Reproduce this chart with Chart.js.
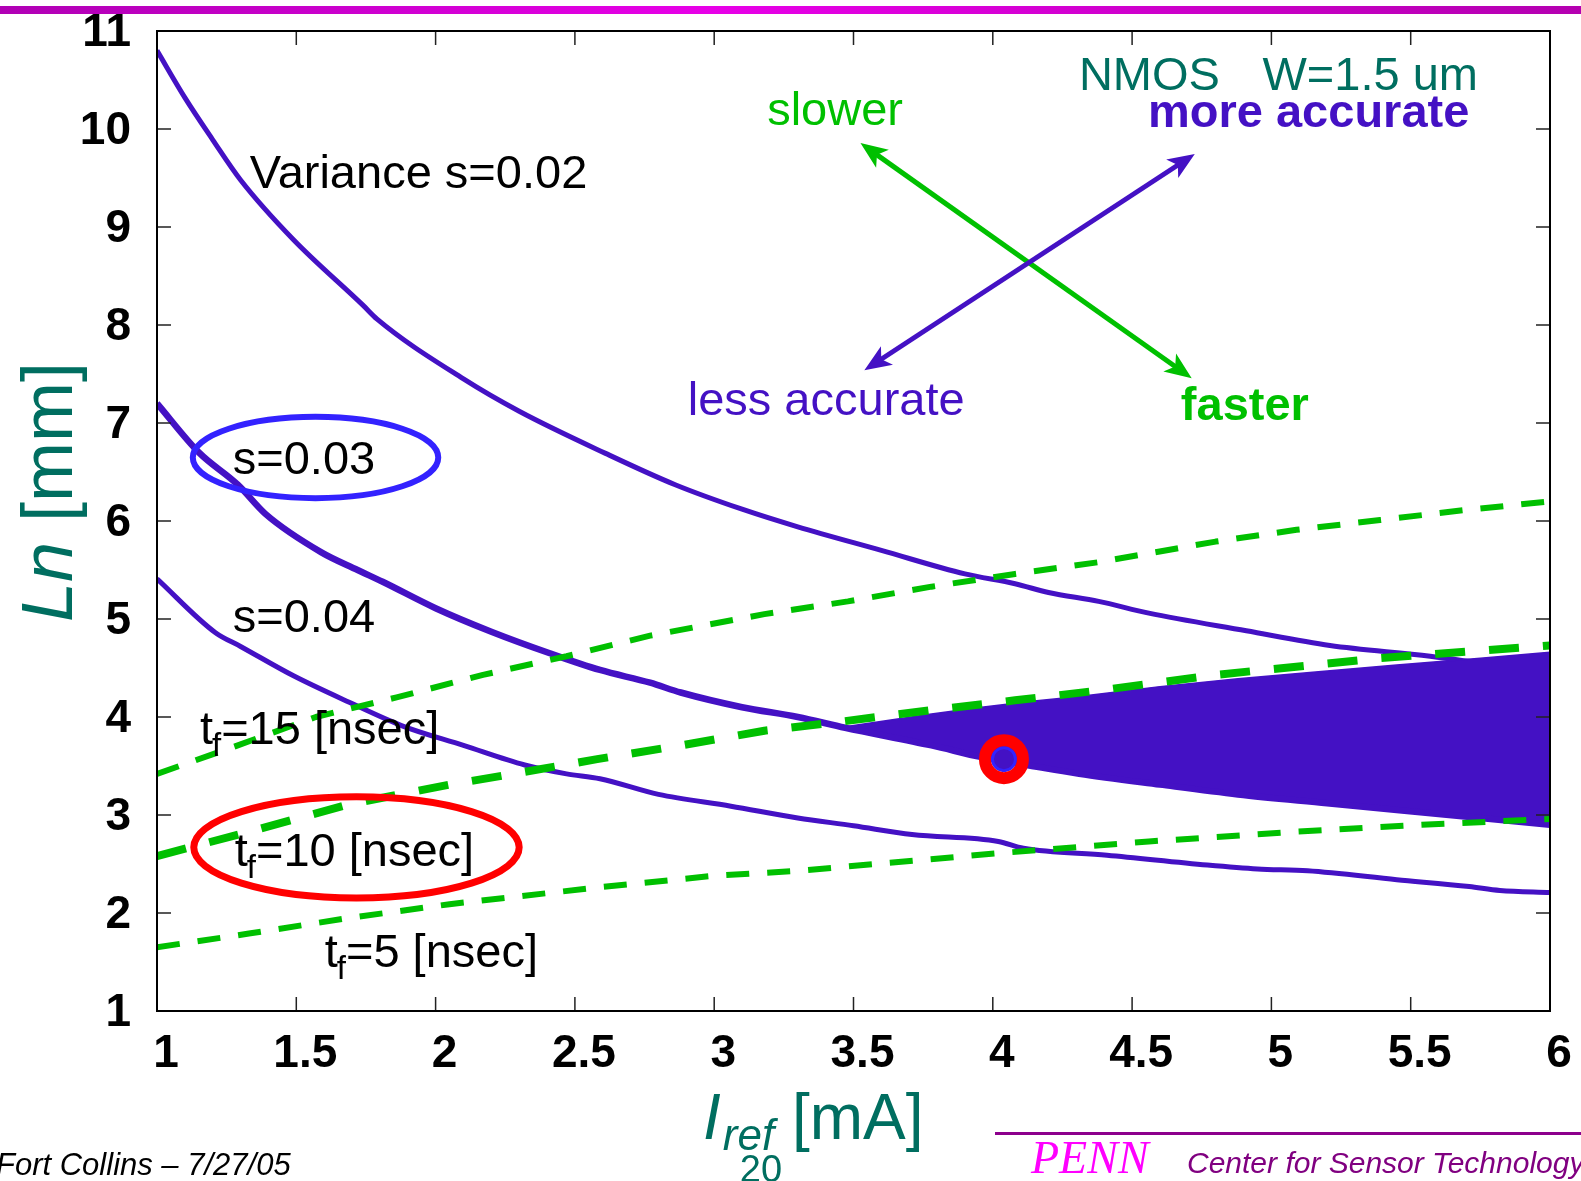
<!DOCTYPE html>
<html><head><meta charset="utf-8">
<script src="https://cdn.jsdelivr.net/npm/chart.js@4.4.0/dist/chart.umd.min.js"></script>
<style>html,body{margin:0;padding:0;background:#fff;overflow:hidden}canvas{display:block}</style>
</head><body>
<canvas id="c" width="1581" height="1181"></canvas>
<script>
// ---- data ----
const xTickValues = [1, 1.5, 2, 2.5, 3, 3.5, 4, 4.5, 5, 5.5, 6];
const xTickLabels = ['1', '1.5', '2', '2.5', '3', '3.5', '4', '4.5', '5', '5.5', '6'];
const yTickValues = [1, 2, 3, 4, 5, 6, 7, 8, 9, 10, 11];
const yTickLabels = ['1', '2', '3', '4', '5', '6', '7', '8', '9', '10', '11'];

const s002X = [1.0, 1.1, 1.2, 1.3, 1.49, 1.74, 1.79, 2.1, 2.3, 2.61, 2.86, 3.1, 3.3, 3.6, 3.9, 4.08, 4.2, 4.38, 4.56, 4.91, 5.21, 5.57, 6.0];
const s002Y = [10.8, 10.32, 9.89, 9.48, 8.87, 8.2, 8.06, 7.45, 7.12, 6.69, 6.37, 6.12, 5.94, 5.70, 5.46, 5.36, 5.27, 5.18, 5.06, 4.88, 4.73, 4.62, 4.45];

const s003X = [1.0, 1.15, 1.29, 1.39, 1.59, 1.72, 1.81, 2.0, 2.2, 2.41, 2.59, 2.77, 2.88, 3.1, 3.3, 3.47, 3.78, 3.96, 4.14, 4.31, 4.6, 4.88, 5.2, 5.45, 5.75, 6.0];
const s003Y = [7.2, 6.7, 6.37, 6.07, 5.68, 5.50, 5.38, 5.11, 4.87, 4.65, 4.48, 4.35, 4.25, 4.10, 4.0, 3.89, 3.71, 3.59, 3.50, 3.42, 3.31, 3.21, 3.12, 3.05, 2.97, 2.90];

const s004X = [1.0, 1.21, 1.3, 1.49, 1.69, 1.88, 2.1, 2.32, 2.47, 2.59, 2.8, 3.06, 3.3, 3.5, 3.71, 4.02, 4.11, 4.41, 4.77, 4.95, 5.13, 5.45, 5.71, 5.82, 6.0];
const s004Y = [5.41, 4.86, 4.72, 4.42, 4.15, 3.91, 3.71, 3.51, 3.42, 3.37, 3.21, 3.09, 2.97, 2.89, 2.80, 2.73, 2.66, 2.59, 2.49, 2.45, 2.43, 2.34, 2.27, 2.23, 2.21];

const tf15X = [1.0, 1.29, 1.57, 1.86, 2.17, 2.47, 2.77, 3.18, 3.48, 3.78, 4.08, 4.38, 4.8, 5.09, 5.39, 5.69, 6.0];
const tf15Y = [3.42, 3.71, 4.0, 4.2, 4.43, 4.62, 4.83, 5.05, 5.18, 5.33, 5.46, 5.58, 5.79, 5.91, 6.01, 6.11, 6.20];

const tf10X = [1.0, 1.33, 1.69, 2.05, 2.3, 2.58, 2.88, 3.18, 3.42, 3.78, 4.08, 4.38, 4.8, 5.39, 6.0];
const tf10Y = [2.58, 2.83, 3.11, 3.31, 3.43, 3.57, 3.71, 3.86, 3.94, 4.07, 4.17, 4.27, 4.43, 4.60, 4.73];

const tf5X = [1.0, 1.33, 1.69, 2.05, 2.58, 3.0, 3.3, 4.02, 4.56, 5.09, 5.54, 6.0];
const tf5Y = [1.65, 1.79, 1.95, 2.09, 2.26, 2.38, 2.43, 2.61, 2.73, 2.83, 2.90, 2.96];

// feasible region (between s=0.03 and t_f=10)
const regionX = [3.47, 3.78, 3.96, 4.14, 4.31, 4.6, 4.88, 5.2, 5.45, 5.75, 6.0];
const regionTopY = [3.90, 4.03, 4.10, 4.16, 4.21, 4.31, 4.39, 4.47, 4.53, 4.60, 4.66];
const regionBottomY = [3.89, 3.71, 3.59, 3.50, 3.42, 3.31, 3.21, 3.12, 3.05, 2.97, 2.90];

const designX = [4.04];
const designY = [3.57];

// ---- styles ----
const PURPLE = '#4411c4';
const GREEN = '#00c000';
const TEAL = '#006e60';
const BLUE = '#3322ff';
const RED = '#ff0000';
const FONT = '"Liberation Sans", Arial, Helvetica, sans-serif';

const pts = (xs, ys) => xs.map((x, i) => ({x: x, y: ys[i]}));

const annotations = {
  blueEllipse: {cx: 1.569, cy: 6.648, rx: 0.4405, ry: 0.415},
  redEllipse: {cx: 1.716, cy: 2.670, rx: 0.584, ry: 0.516},
  greenArrow: [3.525, 9.856, 4.714, 7.457],
  blueArrow: [3.539, 7.538, 4.725, 9.745]
};

function drawArrowHead(ctx, xFrom, yFrom, xTip, yTip, len, half) {
  const a = Math.atan2(yTip - yFrom, xTip - xFrom);
  ctx.beginPath();
  ctx.moveTo(xTip, yTip);
  ctx.lineTo(xTip - len * Math.cos(a) + half * Math.sin(a), yTip - len * Math.sin(a) - half * Math.cos(a));
  ctx.lineTo(xTip - len * 0.75 * Math.cos(a), yTip - len * 0.75 * Math.sin(a));
  ctx.lineTo(xTip - len * Math.cos(a) - half * Math.sin(a), yTip - len * Math.sin(a) + half * Math.cos(a));
  ctx.closePath();
  ctx.fill();
}
function drawDoubleArrow(ctx, x1, y1, x2, y2, color) {
  ctx.strokeStyle = color; ctx.fillStyle = color; ctx.lineWidth = 5;
  const a = Math.atan2(y2 - y1, x2 - x1);
  const off = 16;
  ctx.beginPath();
  ctx.moveTo(x1 + off * Math.cos(a), y1 + off * Math.sin(a));
  ctx.lineTo(x2 - off * Math.cos(a), y2 - off * Math.sin(a));
  ctx.stroke();
  drawArrowHead(ctx, x1, y1, x2, y2, 27, 11);
  drawArrowHead(ctx, x2, y2, x1, y1, 27, 11);
}
function drawTf(ctx, x, y, num) {
  ctx.fillStyle = '#000';
  ctx.textAlign = 'left'; ctx.textBaseline = 'alphabetic';
  ctx.font = '47px ' + FONT;
  ctx.fillText('t', x, y);
  let w = ctx.measureText('t').width;
  ctx.font = '33px ' + FONT;
  ctx.fillText('f', x + w - 1, y + 12);
  w += ctx.measureText('f').width - 1;
  ctx.font = '47px ' + FONT;
  ctx.fillText('=' + num + ' [nsec]', x + w, y);
}

const decor = {
  id: 'decor',
  beforeDraw(chart) {
    const ctx = chart.ctx;
    ctx.save();
    ctx.fillStyle = '#fff';
    ctx.fillRect(0, 0, chart.width, chart.height);
    ctx.restore();
  },
  afterDatasetsDraw(chart) {
    const ctx = chart.ctx;
    const X = v => chart.scales.x.getPixelForValue(v);
    const Y = v => chart.scales.y.getPixelForValue(v);
    const ca = chart.chartArea;
    ctx.save();
    // inward ticks
    ctx.strokeStyle = '#222'; ctx.lineWidth = 1.5;
    ctx.beginPath();
    xTickValues.forEach(v => {
      const p = X(v);
      ctx.moveTo(p, ca.bottom); ctx.lineTo(p, ca.bottom - 14);
      ctx.moveTo(p, ca.top); ctx.lineTo(p, ca.top + 14);
    });
    yTickValues.forEach(v => {
      const p = Y(v);
      ctx.moveTo(ca.left, p); ctx.lineTo(ca.left + 14, p);
      ctx.moveTo(ca.right, p); ctx.lineTo(ca.right - 14, p);
    });
    ctx.stroke();
    // frame
    ctx.strokeStyle = '#000'; ctx.lineWidth = 2;
    ctx.strokeRect(ca.left, ca.top, ca.right - ca.left, ca.bottom - ca.top);

    // ellipses
    const e1 = annotations.blueEllipse, e2 = annotations.redEllipse;
    ctx.lineWidth = 6; ctx.strokeStyle = BLUE;
    ctx.beginPath();
    ctx.ellipse(X(e1.cx), Y(e1.cy), X(e1.cx + e1.rx) - X(e1.cx), Y(e1.cy) - Y(e1.cy + e1.ry), 0, 0, Math.PI * 2);
    ctx.stroke();
    ctx.lineWidth = 7; ctx.strokeStyle = RED;
    ctx.beginPath();
    ctx.ellipse(X(e2.cx), Y(e2.cy), X(e2.cx + e2.rx) - X(e2.cx), Y(e2.cy) - Y(e2.cy + e2.ry), 0, 0, Math.PI * 2);
    ctx.stroke();

    // arrows
    const g = annotations.greenArrow, b = annotations.blueArrow;
    drawDoubleArrow(ctx, X(g[0]), Y(g[1]), X(g[2]), Y(g[3]), GREEN);
    drawDoubleArrow(ctx, X(b[0]), Y(b[1]), X(b[2]), Y(b[3]), PURPLE);

    // labels
    ctx.textAlign = 'left'; ctx.textBaseline = 'alphabetic';
    ctx.font = '47px ' + FONT;
    ctx.fillStyle = '#000';
    ctx.fillText('Variance s=0.02', X(1.333), Y(9.40));
    ctx.fillText('s=0.03', X(1.272), Y(6.48));
    ctx.fillText('s=0.04', X(1.272), Y(4.87));
    drawTf(ctx, X(1.154), Y(3.72), '15');
    drawTf(ctx, X(1.279), Y(2.48), '10');
    drawTf(ctx, X(1.602), Y(1.445), '5');

    ctx.font = '47px ' + FONT;
    ctx.fillStyle = TEAL;
    ctx.fillText('NMOS', X(4.309), Y(10.40));
    ctx.fillText('W=1.5 um', X(4.968), Y(10.40));
    ctx.fillStyle = GREEN;
    ctx.fillText('slower', X(3.19), Y(10.04));
    ctx.fillStyle = PURPLE;
    ctx.fillText('less accurate', X(2.905), Y(7.08));
    ctx.font = 'bold 47px ' + FONT;
    ctx.fillText('more accurate', X(4.557), Y(10.02));
    ctx.fillStyle = GREEN;
    ctx.fillText('faster', X(4.675), Y(7.03));
    ctx.restore();
  },
  afterDraw(chart) {
    const ctx = chart.ctx;
    const W = chart.width;
    ctx.save();
    // top gradient bar
    const gr = ctx.createLinearGradient(0, 0, W, 0);
    gr.addColorStop(0, '#b000b4');
    gr.addColorStop(0.45, '#e800e8');
    gr.addColorStop(1, '#b400b0');
    ctx.fillStyle = gr;
    ctx.fillRect(0, 6, W, 8);

    // axis titles
    ctx.fillStyle = TEAL;
    ctx.textBaseline = 'alphabetic'; ctx.textAlign = 'left';
    ctx.save();
    ctx.translate(72, 622);
    ctx.rotate(-Math.PI / 2);
    ctx.font = 'italic 72px ' + FONT;
    ctx.fillText('Ln', 0, 0);
    let w = ctx.measureText('Ln').width;
    ctx.font = '72px ' + FONT;
    ctx.fillText(' [mm]', w, 0);
    ctx.restore();
    ctx.font = 'italic 64px ' + FONT;
    ctx.fillText('I', 703, 1139);
    w = ctx.measureText('I').width;
    ctx.font = 'italic 44px ' + FONT;
    ctx.fillText('ref', 703 + w + 2, 1150);
    const w2 = ctx.measureText('ref').width;
    ctx.font = '64px ' + FONT;
    ctx.fillText(' [mA]', 703 + w + 2 + w2, 1139);

    // page number
    ctx.font = '38px ' + FONT;
    ctx.textAlign = 'center';
    ctx.fillText('20', 761, 1182);

    // footer
    ctx.textAlign = 'left';
    ctx.fillStyle = '#000';
    ctx.font = 'italic 31px ' + FONT;
    ctx.fillText('Fort Collins \u2013 7/27/05', -4, 1175);

    ctx.fillStyle = '#8c008c';
    ctx.fillRect(995, 1132, W - 995, 3);
    ctx.fillStyle = '#ff00ff';
    ctx.font = 'italic 46px "Liberation Serif", "Times New Roman", serif';
    ctx.fillText('PENN', 1031, 1173);
    ctx.fillStyle = '#800080';
    ctx.font = 'italic 30px ' + FONT;
    ctx.fillText('Center for Sensor Technology', 1187, 1173);
    ctx.restore();
  }
};

const lineDs = (label, xs, ys, color, width, dash, order, smooth) => ({
  label: label, data: pts(xs, ys), borderColor: color, borderWidth: width,
  borderDash: dash || [], pointRadius: 0, tension: 0,
  cubicInterpolationMode: smooth ? 'monotone' : 'default',
  fill: false, order: order,
  borderCapStyle: 'butt', borderJoinStyle: 'round'
});

const datasets = [
  lineDs('s=0.02', s002X, s002Y, PURPLE, 5, null, 6, true),        // 0
  lineDs('s=0.03', s003X, s003Y, PURPLE, 6.5, null, 3, true),      // 1
  lineDs('s=0.04', s004X, s004Y, PURPLE, 5, null, 3, true),        // 2
  lineDs('tf=15', tf15X, tf15Y, GREEN, 6, [23, 18], 1, false),     // 3
  lineDs('tf=10', tf10X, tf10Y, GREEN, 8, [30, 24], 1, false),     // 4
  lineDs('tf=5', tf5X, tf5Y, GREEN, 6, [23, 18], 1, false),        // 5
  { label: 'regionBottom', data: pts(regionX, regionBottomY), borderColor: 'rgba(0,0,0,0)',
    borderWidth: 1, pointRadius: 0, tension: 0, cubicInterpolationMode: 'monotone', fill: false, order: 8 }, // 6
  { label: 'region', data: pts(regionX, regionTopY), borderColor: PURPLE, borderWidth: 1.5,
    backgroundColor: PURPLE, pointRadius: 0, tension: 0, fill: {target: 6}, order: 5 }, // 7
  { label: 'designRing', data: pts(designX, designY), showLine: false, pointRadius: 19,
    pointBorderWidth: 12, pointBorderColor: RED, pointBackgroundColor: 'rgba(0,0,0,0)', order: 0 }, // 8
  { label: 'designCore', data: pts(designX, designY), showLine: false, pointRadius: 11.5,
    pointBorderWidth: 3, pointBorderColor: BLUE, pointBackgroundColor: PURPLE, order: 0 } // 9
];

const noPad = s => { s.paddingLeft = 0; s.paddingRight = 0; s.paddingTop = 0; s.paddingBottom = 0; };

new Chart(document.getElementById('c'), {
  type: 'line',
  data: { datasets: datasets },
  plugins: [decor],
  options: {
    responsive: false,
    animation: false,
    devicePixelRatio: 1,
    layout: { padding: { left: 0, top: 23, right: 25, bottom: 0 } },
    plugins: { legend: { display: false }, tooltip: { enabled: false } },
    scales: {
      x: {
        type: 'linear', min: 1, max: 6,
        afterBuildTicks: s => { s.ticks = xTickValues.map(v => ({value: v})); },
        afterFit: s => { s.height = 170; noPad(s); },
        grid: { display: false, drawTicks: false },
        border: { display: false },
        ticks: { color: '#000', padding: 16, labelOffset: 9, maxRotation: 0, minRotation: 0, autoSkip: false,
          callback: (v) => xTickLabels[xTickValues.indexOf(v)],
          font: { family: FONT, size: 46, weight: 'bold', lineHeight: 1.2 } }
      },
      y: {
        type: 'linear', min: 1, max: 11,
        afterBuildTicks: s => { s.ticks = yTickValues.map(v => ({value: v})); },
        afterFit: s => { s.width = 157; noPad(s); },
        grid: { display: false, drawTicks: false },
        border: { display: false },
        ticks: { color: '#000', padding: 26, labelOffset: 2, autoSkip: false,
          callback: (v) => yTickLabels[yTickValues.indexOf(v)],
          font: { family: FONT, size: 46, weight: 'bold', lineHeight: 0.8 } }
      }
    }
  }
});
</script>
</body></html>
